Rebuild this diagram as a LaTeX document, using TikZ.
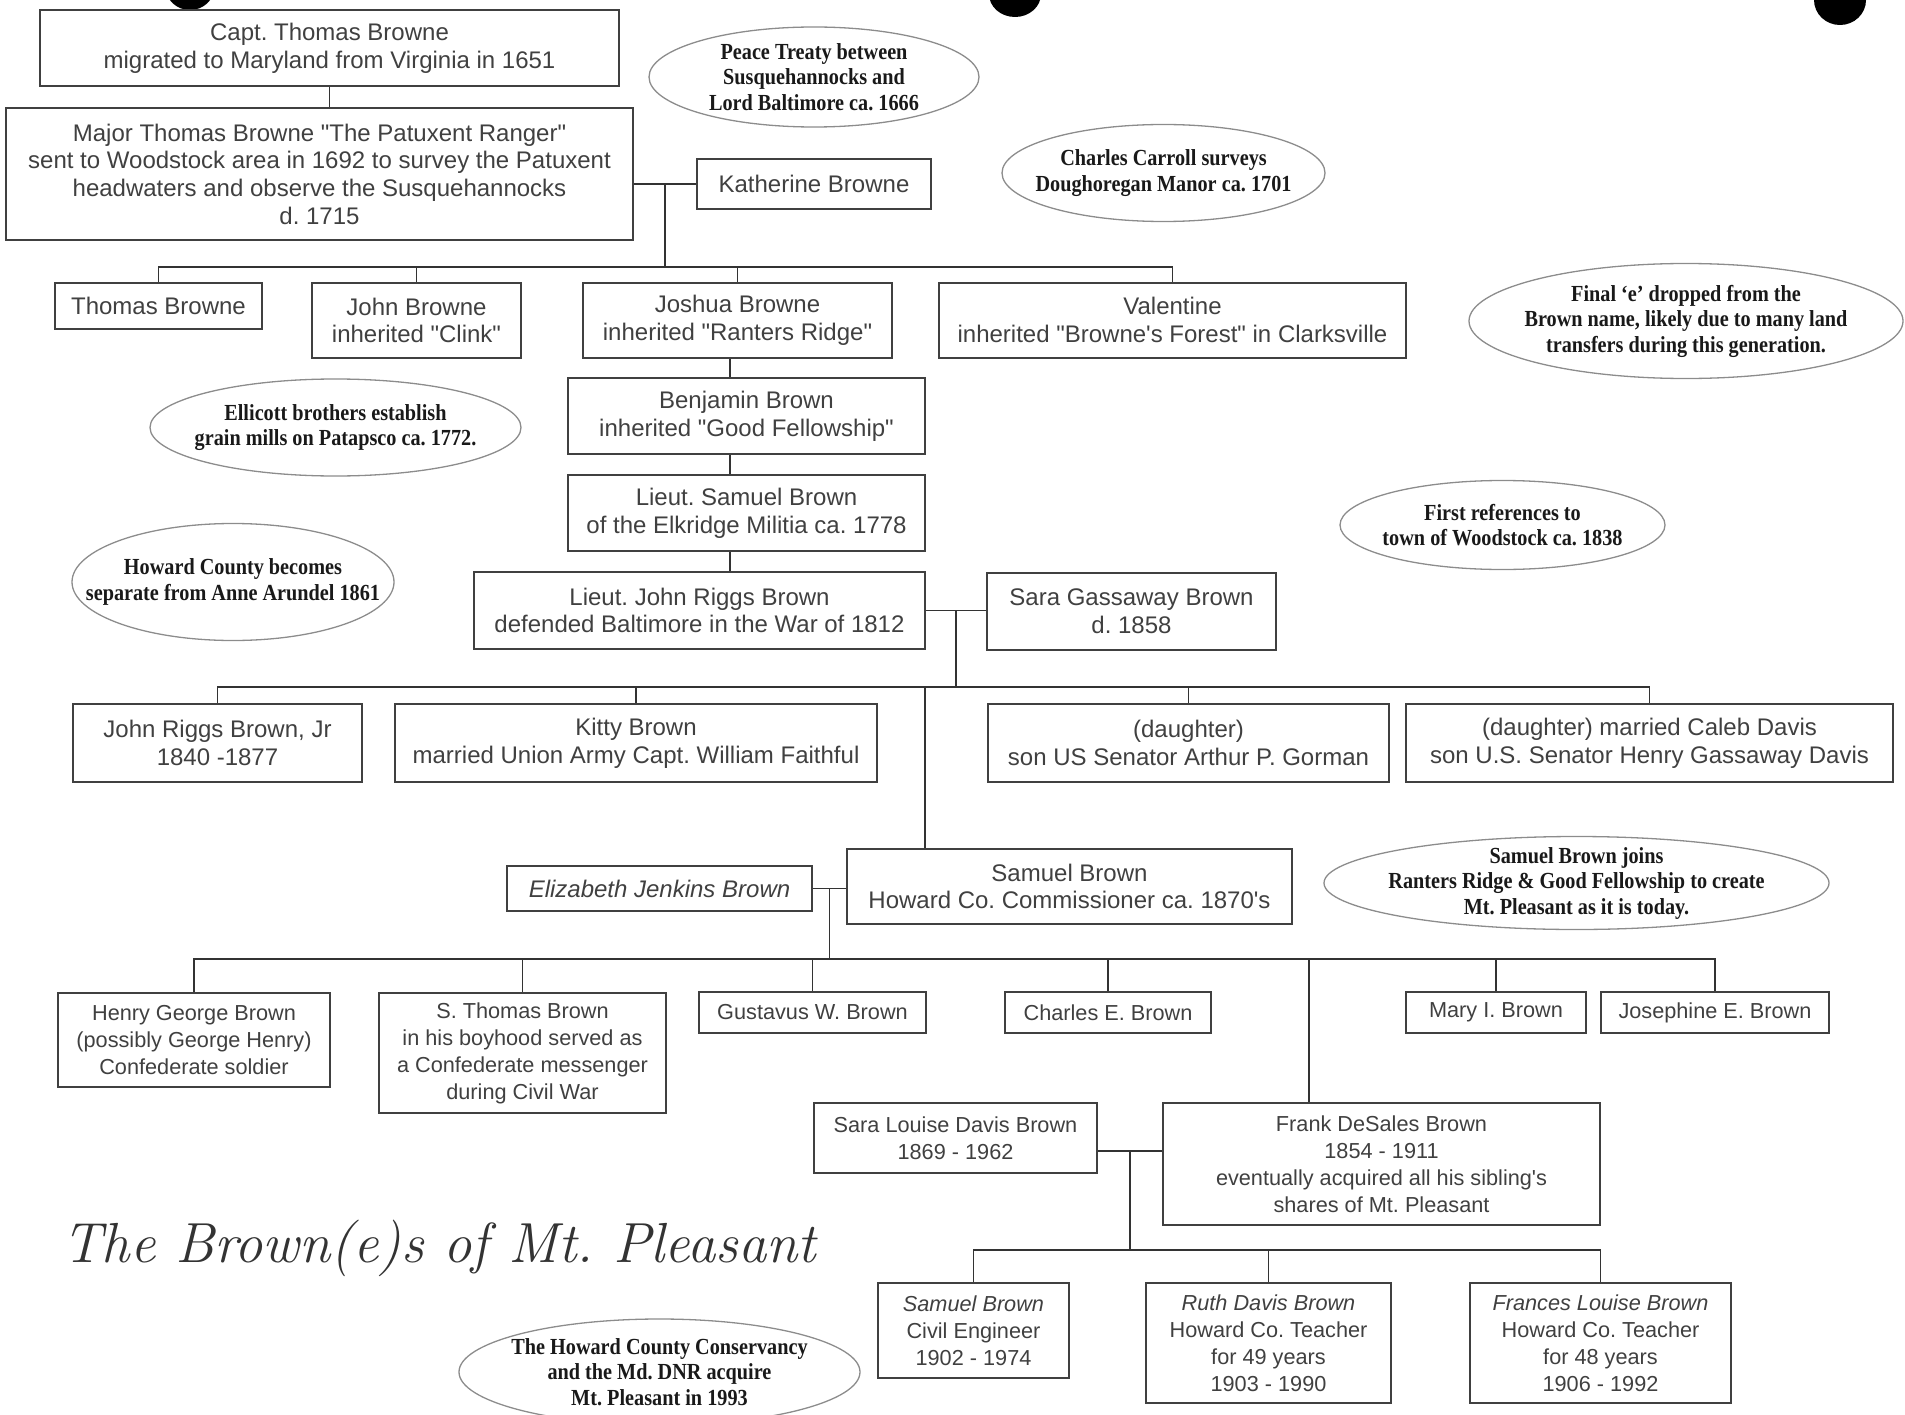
\documentclass[tikz,border=0pt]{standalone}
\usepackage{fontspec}
\setmainfont{Liberation Sans}[Ligatures=TeXOff]
\newfontfamily\notefont[FakeStretch=0.88]{Liberation Serif}
\newfontfamily\titlefont{Latin Modern Roman}
\usetikzlibrary{calc}
\frenchspacing
\tikzstyle{boxLine}=[line width=2pt]
\tikzstyle{Box}=[draw=black!75,boxLine,align=center,inner sep=0pt,text=black!75,font=\fontsize{24}{27.7}\selectfont]
\tikzstyle{SmallBox}=[Box,font=\fontsize{21.7}{27}\selectfont]
\tikzstyle{Note}=[align=center,inner sep=0pt,text=black!90,font=\notefont\bfseries\fontsize{23}{25.5}\selectfont]
\tikzstyle{Oval}=[draw=black!45,line width=1.3pt]
\tikzstyle{Line}=[draw=black!80,line width=1.6pt]
\tikzstyle{Title}=[inner sep=0pt,text=black!80,font=\titlefont\itshape\fontsize{56.5}{60}\selectfont]
\tikzstyle{Hole}=[fill=black]

\begin{document}
\begin{tikzpicture}[x=1pt,y=-1pt]

  \useasboundingbox (0,0) rectangle (1905,1415);

  % Holes
  \fill[Hole] (190,-12) ellipse [x radius=24,y radius=22];
  \fill[Hole] (1015,-6) ellipse [x radius=26,y radius=23];
  \fill[Hole] (1840,0) ellipse [x radius=26,y radius=25];

  % Generation 1-2
  \node[Box,minimum width=579,minimum height=76] (capt) at (329.5,48)
    {Capt. Thomas Browne\\migrated to Maryland from Virginia in 1651};
  \node[Box,minimum width=627,minimum height=132] (major) at (319.5,174)
    {Major Thomas Browne "The Patuxent Ranger"\\sent to Woodstock area in 1692 to survey the Patuxent\\headwaters and observe the Susquehannocks\\d. 1715};
  \node[Box,minimum width=234,minimum height=50] (katherine) at (814,184) {Katherine Browne};

  % Generation 3
  \node[Box,minimum width=207,minimum height=46] (thomas) at (158.5,306) {Thomas Browne};
  \node[Box,minimum width=209,minimum height=75] (john) at (416.5,320.5) {John Browne\\inherited "Clink"};
  \node[Box,minimum width=309,minimum height=75] (joshua) at (737.5,320.5) {Joshua Browne\\inherited "Ranters Ridge"};
  \node[Box,minimum width=467,minimum height=75] (valentine) at (1172.5,320) {Valentine\\inherited "Browne's Forest" in Clarksville};

  % Generation 4-6
  \node[Box,minimum width=357,minimum height=76] (benjamin) at (746.5,416) {Benjamin Brown\\inherited "Good Fellowship"};
  \node[Box,minimum width=357,minimum height=76] (samuelLt) at (746.5,513) {Lieut. Samuel Brown\\of the Elkridge Militia ca. 1778};
  \node[Box,minimum width=451,minimum height=77] (johnRiggs) at (699.5,610.5) {Lieut. John Riggs Brown\\defended Baltimore in the War of 1812};
  \node[Box,minimum width=289,minimum height=77] (saraG) at (1131.5,611.5) {Sara Gassaway Brown\\d. 1858};

  % Generation 7
  \node[Box,minimum width=289,minimum height=78] (jrjr) at (217.5,743) {John Riggs Brown, Jr\\1840 -1877};
  \node[Box,minimum width=482,minimum height=78] (kitty) at (636,743) {Kitty Brown\\married Union Army Capt. William Faithful};
  \node[Box,minimum width=401,minimum height=78] (daughterA) at (1188.5,743) {(daughter)\\son US Senator Arthur P. Gorman};
  \node[Box,minimum width=487,minimum height=78] (daughterB) at (1649.5,743) {(daughter) married Caleb Davis\\son U.S. Senator Henry Gassaway Davis};
  \node[Box,minimum width=305,minimum height=45] (elizabeth) at (659.5,888.5) {\itshape Elizabeth Jenkins Brown};
  \node[Box,minimum width=445,minimum height=75] (samuelC) at (1069.5,886.5) {Samuel Brown\\Howard Co. Commissioner ca. 1870's};

  % Generation 8
  \node[SmallBox,minimum width=272,minimum height=94] (henry) at (194,1040) {Henry George Brown\\(possibly George Henry)\\Confederate soldier};
  \node[SmallBox,minimum width=287,minimum height=120] (sThomas) at (522.5,1053) {S. Thomas Brown\\in his boyhood served as\\a Confederate messenger\\during Civil War};
  \node[SmallBox,minimum width=227,minimum height=41] (gustavus) at (812.5,1012.5) {Gustavus W. Brown};
  \node[SmallBox,minimum width=206,minimum height=41] (charles) at (1108,1012.5) {Charles E. Brown};
  \node[SmallBox,minimum width=180,minimum height=41] (mary) at (1496,1012.5) {Mary I. Brown};
  \node[SmallBox,minimum width=228,minimum height=41] (josephine) at (1715,1012.5) {Josephine E. Brown};
  \node[SmallBox,minimum width=283,minimum height=70] (saraL) at (955.5,1138) {Sara Louise Davis Brown\\1869 - 1962};
  \node[SmallBox,minimum width=437,minimum height=122] (frank) at (1381.5,1164) {Frank DeSales Brown\\1854 - 1911\\eventually acquired all his sibling's\\shares of Mt. Pleasant};

  % Generation 9
  \node[SmallBox,minimum width=191,minimum height=95] (samuelCE) at (973.5,1330.5) {\textit{Samuel Brown}\\Civil Engineer\\1902 - 1974};
  \node[SmallBox,minimum width=245,minimum height=120] (ruth) at (1268.5,1343) {\textit{Ruth Davis Brown}\\Howard Co. Teacher\\for 49 years\\1903 - 1990};
  \node[SmallBox,minimum width=261,minimum height=120] (frances) at (1600.5,1343) {\textit{Frances Louise Brown}\\Howard Co. Teacher\\for 48 years\\1906 - 1992};

  % Connectors
  \draw[Line] (capt.south) -- (capt.south |- major.north);
  \draw[Line] (major.east |- katherine.west) -- (katherine.west);
  \coordinate (wed1) at ($(major.east |- katherine.west)!.5!(katherine.west)$);
  \coordinate (bar1) at ($(wed1)+(0,83)$);
  \draw[Line] (wed1) -- (bar1);
  \foreach \child in {thomas,john,joshua,valentine}
    \draw[Line] (bar1) -| (\child.north);

  \coordinate (spine) at (730,0);
  \draw[Line] (joshua.south -| spine) -- (benjamin.north -| spine);
  \draw[Line] (benjamin.south -| spine) -- (samuelLt.north -| spine);
  \draw[Line] (samuelLt.south -| spine) -- (johnRiggs.north -| spine);

  \draw[Line] (johnRiggs.east) -- (johnRiggs.east -| saraG.west);
  \coordinate (wed2) at ($(johnRiggs.east)!.5!(johnRiggs.east -| saraG.west)$);
  \coordinate (bar2) at ($(wed2)+(0,76.5)$);
  \draw[Line] (wed2) -- (bar2);
  \foreach \child in {jrjr,kitty,daughterA,daughterB}
    \draw[Line] (bar2) -| (\child.north);
  \draw[Line] (bar2) -| ($(samuelC.north west)+(79,0)$);

  \draw[Line] (elizabeth.east) -- (elizabeth.east -| samuelC.west);
  \coordinate (wed3) at ($(elizabeth.east)!.5!(elizabeth.east -| samuelC.west)$);
  \coordinate (bar3) at ($(wed3)+(0,70.5)$);
  \draw[Line] (wed3) -- (bar3);
  \foreach \child in {henry,sThomas,gustavus,charles,mary,josephine}
    \draw[Line] (bar3) -| (\child.north);
  \draw[Line] (bar3) -| ($(frank.north west)+(147,0)$);

  \coordinate (wed4) at ($(saraL.east)!.5!(frank.west)$);
  \draw[Line] (saraL.east |- wed4) -- (frank.west |- wed4);
  \coordinate (bar4) at ($(wed4)+(0,99)$);
  \draw[Line] (wed4) -- (bar4);
  \foreach \child in {samuelCE,ruth,frances}
    \draw[Line] (bar4) -| (\child.north);

  % Notes
  \node[Note] (peace) at (814,77) {Peace Treaty between\\Susquehannocks and\\Lord Baltimore ca. 1666};
  \draw[Oval] (peace) ellipse [x radius=165,y radius=50];
  \node[Note] (carroll) at (1163.5,173) {Charles Carroll surveys\\Doughoregan Manor ca. 1701};
  \draw[Oval] (carroll) ellipse [x radius=161.5,y radius=48.5];
  \node[Note] (finalE) at (1686,321) {Final ‘e’ dropped from the\\Brown name, likely due to many land\\transfers during this generation.};
  \draw[Oval] (finalE) ellipse [x radius=217,y radius=57.5];
  \node[Note] (ellicott) at (335.5,427.5) {Ellicott brothers establish\\grain mills on Patapsco ca. 1772.};
  \draw[Oval] (ellicott) ellipse [x radius=185.5,y radius=48.5];
  \node[Note] (firstRef) at (1502.5,525) {First references to\\town of Woodstock ca. 1838};
  \draw[Oval] (firstRef) ellipse [x radius=162.5,y radius=44.5];
  \node[Note] (howardCo) at (233,582) {Howard County becomes\\separate from Anne Arundel 1861};
  \draw[Oval] (howardCo) ellipse [x radius=161,y radius=58.5];
  \node[Note] (joins) at (1576.5,883) {Samuel Brown joins\\Ranters Ridge \& Good Fellowship to create\\Mt. Pleasant as it is today.};
  \draw[Oval] (joins) ellipse [x radius=252.5,y radius=46.5];
  \node[Note] (conservancy) at (659.5,1372) {The Howard County Conservancy\\and the Md. DNR acquire\\Mt. Pleasant in 1993};
  \draw[Oval] (conservancy) ellipse [x radius=200.5,y radius=53];

  % Title
  \node[Title,anchor=base west] (title) at (62,1262) {The Brown(e)s of Mt. Pleasant};

\end{tikzpicture}
\end{document}
